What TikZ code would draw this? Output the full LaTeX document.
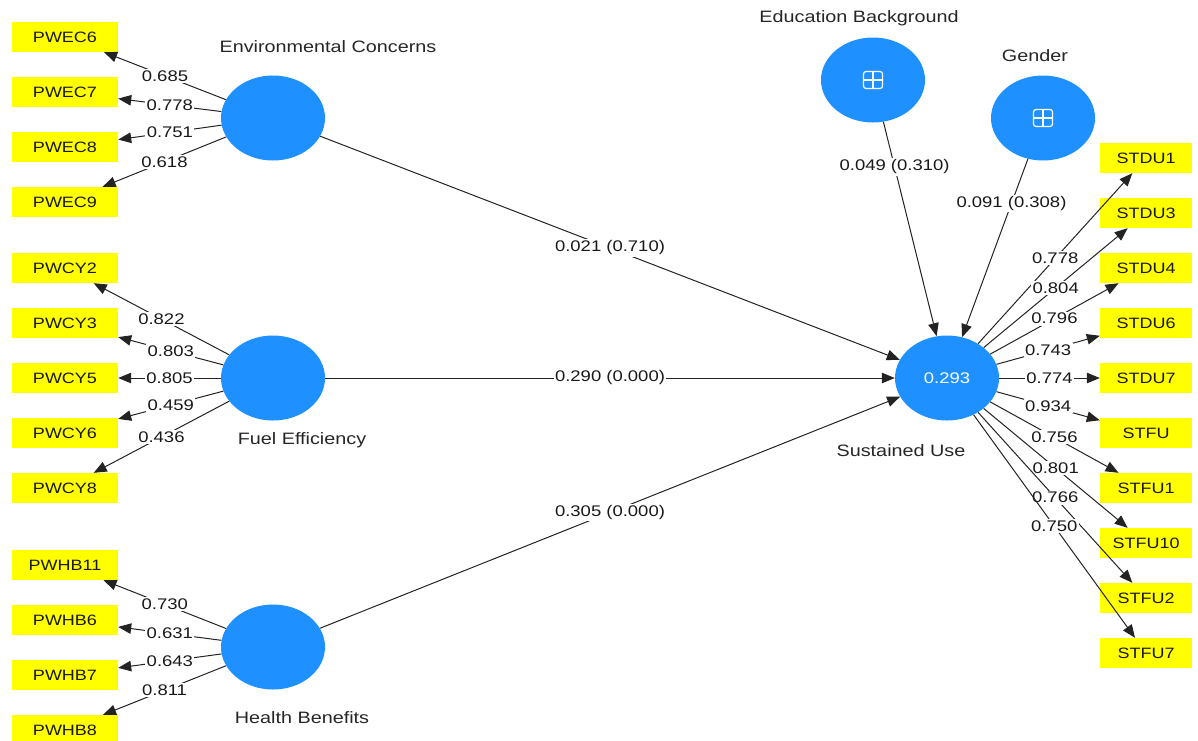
\documentclass[tikz,border=0pt]{standalone}
\usepackage{fontspec}
\setmainfont{Liberation Sans}[FakeStretch=1.2]
\usetikzlibrary{arrows.meta,shapes.geometric}
\definecolor{lvblue}{RGB}{30,144,255}
\definecolor{indyellow}{RGB}{255,255,0}
\definecolor{edgegray}{RGB}{35,35,35}
\begin{document}
\begin{tikzpicture}[x=1pt,y=-1pt,
  latent/.style={ellipse, fill=lvblue, minimum width=104pt, minimum height=85pt, inner sep=0pt, text=white, font=\fontsize{15.4}{16}\selectfont},
  indl/.style={fill=indyellow, minimum width=106pt, minimum height=30pt, inner sep=0pt, font=\fontsize{15}{16}\selectfont, text=black!90},
  indr/.style={indl, minimum width=92pt},
  lvname/.style={font=\fontsize{16.5}{18}\selectfont, text=black!85, inner sep=0pt},
  link/.style={draw=edgegray, line width=1pt, -{Triangle[length=13pt,width=10.5pt]}},
  coef/.style={fill=white, inner sep=1.5pt, font=\fontsize{15.4}{16}\selectfont, text=black!90},
  icon/.style={white, line width=1.2pt},
]
\useasboundingbox (0,0) rectangle (1198,740);

% latent variables
\node[latent] (ec) at (273,118) {};
\node[latent] (fe) at (273,378) {};
\node[latent] (hb) at (273,647) {};
\node[latent] (su) at (947,378) {0.293};
\node[latent] (eb) at (873,80) {};
\node[latent] (gd) at (1043,118) {};

% names
\node[lvname] (ecn) at (328,47) {Environmental Concerns};
\node[lvname] (fen) at (302,440) {Fuel Efficiency};
\node[lvname] (hbn) at (302,718) {Health Benefits};
\node[lvname] (sun) at (901,451) {Sustained Use};
\node[lvname] (ebn) at (859,18) {Education Background};
\node[lvname] (gdn) at (1035,56) {Gender};

% icons
\foreach \n in {eb,gd}{
  \draw[icon, rounded corners=2.5pt] ([shift={(-9.5,-8.5)}]\n.center) rectangle ([shift={(9.5,8.5)}]\n.center);
  \draw[icon] ([shift={(-9.5,0)}]\n.center) -- ([shift={(9.5,0)}]\n.center)
              ([shift={(0,-8.5)}]\n.center) -- ([shift={(0,8.5)}]\n.center);
}

% left indicators
\node[indl] (pwec6) at (65,37) {PWEC6};
\node[indl] (pwec7) at (65,92) {PWEC7};
\node[indl] (pwec8) at (65,147) {PWEC8};
\node[indl] (pwec9) at (65,202) {PWEC9};
\node[indl] (pwcy2) at (65,268) {PWCY2};
\node[indl] (pwcy3) at (65,323) {PWCY3};
\node[indl] (pwcy5) at (65,378) {PWCY5};
\node[indl] (pwcy6) at (65,433) {PWCY6};
\node[indl] (pwcy8) at (65,488) {PWCY8};
\node[indl] (pwhb11) at (65,565) {PWHB11};
\node[indl] (pwhb6) at (65,620) {PWHB6};
\node[indl] (pwhb7) at (65,675) {PWHB7};
\node[indl] (pwhb8) at (65,730) {PWHB8};

% right indicators
\node[indr] (stdu1) at (1146,158) {STDU1};
\node[indr] (stdu3) at (1146,213) {STDU3};
\node[indr] (stdu4) at (1146,268) {STDU4};
\node[indr] (stdu6) at (1146,323) {STDU6};
\node[indr] (stdu7) at (1146,378) {STDU7};
\node[indr] (stfu) at (1146,433) {STFU};
\node[indr] (stfu1) at (1146,488) {STFU1};
\node[indr] (stfu10) at (1146,543) {STFU10};
\node[indr] (stfu2) at (1146,598) {STFU2};
\node[indr] (stfu7) at (1146,653) {STFU7};

% outer loadings, left
\draw[link] (ec) -- node[coef]{0.685} (pwec6);
\draw[link] (ec) -- node[coef]{0.778} (pwec7);
\draw[link] (ec) -- node[coef]{0.751} (pwec8);
\draw[link] (ec) -- node[coef]{0.618} (pwec9);
\draw[link] (fe) -- node[coef]{0.822} (pwcy2);
\draw[link] (fe) -- node[coef]{0.803} (pwcy3);
\draw[link] (fe) -- node[coef]{0.805} (pwcy5);
\draw[link] (fe) -- node[coef]{0.459} (pwcy6);
\draw[link] (fe) -- node[coef]{0.436} (pwcy8);
\draw[link] (hb) -- node[coef]{0.730} (pwhb11);
\draw[link] (hb) -- node[coef]{0.631} (pwhb6);
\draw[link] (hb) -- node[coef]{0.643} (pwhb7);
\draw[link] (hb) -- node[coef]{0.811} (pwhb8);

% outer loadings, right
\draw[link] (su) -- node[coef]{0.778} (stdu1);
\draw[link] (su) -- node[coef]{0.804} (stdu3);
\draw[link] (su) -- node[coef]{0.796} (stdu4);
\draw[link] (su) -- node[coef]{0.743} (stdu6);
\draw[link] (su) -- node[coef]{0.774} (stdu7);
\draw[link] (su) -- node[coef]{0.934} (stfu);
\draw[link] (su) -- node[coef]{0.756} (stfu1);
\draw[link] (su) -- node[coef]{0.801} (stfu10);
\draw[link] (su) -- node[coef]{0.766} (stfu2);
\draw[link] (su) -- node[coef]{0.750} (stfu7);

% structural paths
\draw[link] (ec) -- node[coef]{0.021 (0.710)} (su);
\draw[link] (fe) -- node[coef]{0.290 (0.000)} (su);
\draw[link] (hb) -- node[coef]{0.305 (0.000)} (su);
\draw[link] (eb) -- node[coef, pos=0.21]{0.049 (0.310)} (su);
\draw[link] (gd) -- node[coef, pos=0.25]{0.091 (0.308)} (su);
\end{tikzpicture}
\end{document}
